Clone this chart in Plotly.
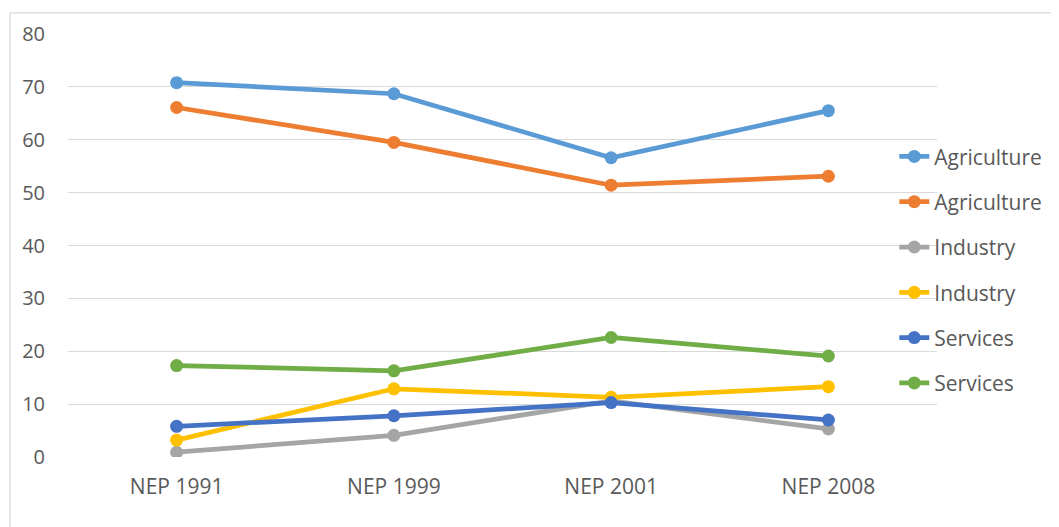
import plotly.graph_objects as go

categories = ["NEP 1991", "NEP 1999", "NEP 2001", "NEP 2008"]

agri_1 = [70.8, 68.7, 56.6, 65.5]
agri_2 = [66.1, 59.5, 51.4, 53.1]
ind_1 = [0.9, 4.1, 10.6, 5.3]
ind_2 = [3.2, 12.9, 11.3, 13.3]
serv_1 = [5.8, 7.8, 10.3, 7.0]
serv_2 = [17.3, 16.3, 22.6, 19.1]

series = [
    ("Agriculture", agri_1, "#5B9BD5"),
    ("Agriculture", agri_2, "#ED7D31"),
    ("Industry", ind_1, "#A5A5A5"),
    ("Industry", ind_2, "#FFC000"),
    ("Services", serv_1, "#4472C4"),
    ("Services", serv_2, "#70AD47"),
]

FONT = "Open Sans"
TXT = "#595959"

fig = go.Figure()
for i, (name, vals, col) in enumerate(series):
    fig.add_trace(go.Scatter(
        x=categories, y=vals, name=name, mode="lines+markers",
        line=dict(color=col, width=4.75),
        marker=dict(color=col, size=13),
        legendgroup=f"g{i}",
    ))

# page body has an 8px default margin; compensate
OFF = 8
W, H = 1059 - OFF, 527 - OFF
L, R, T, B = 68 - OFF, 116, 30 - OFF, 70
pw = W - L - R
ph = H - T - B

def sx(px):  # screen x -> paper
    return (px - OFF - L) / pw

def sy(py):  # screen y -> paper
    return 1 - (py - OFF - T) / ph

fig.update_layout(
    width=W, height=H,
    margin=dict(l=L, r=R, t=T, b=B),
    paper_bgcolor="white", plot_bgcolor="white",
    font=dict(family=FONT, size=20, color=TXT),
    showlegend=True,
    legend=dict(
        x=sx(900), xanchor="left",
        y=sy(268), yanchor="middle",
        font=dict(family=FONT, size=21, color=TXT),
        tracegroupgap=15, bgcolor="rgba(0,0,0,0)",
    ),
    xaxis=dict(
        type="category", showgrid=False, zeroline=False, showline=False,
        ticks="", tickfont=dict(size=21, color=TXT), ticklabelstandoff=15,
        range=[-0.5, 3.5],
    ),
    yaxis=dict(
        range=[0, 80], dtick=10, showgrid=True, gridcolor="#D9D9D9", gridwidth=1.3,
        zeroline=False, showline=False, ticks="",
        tickfont=dict(size=20, color=TXT), ticklabelstandoff=22,
    ),
    shapes=[
        dict(type="line", xref="paper", yref="paper",
             x0=sx(9), x1=sx(1060), y0=sy(8.7), y1=sy(8.7),
             line=dict(color="#D9D9D9", width=1.3)),
        dict(type="line", xref="paper", yref="paper",
             x0=sx(9.7), x1=sx(9.7), y0=sy(8.7), y1=sy(530),
             line=dict(color="#D9D9D9", width=1.3)),
    ],
)

fig.write_html("out.html")
